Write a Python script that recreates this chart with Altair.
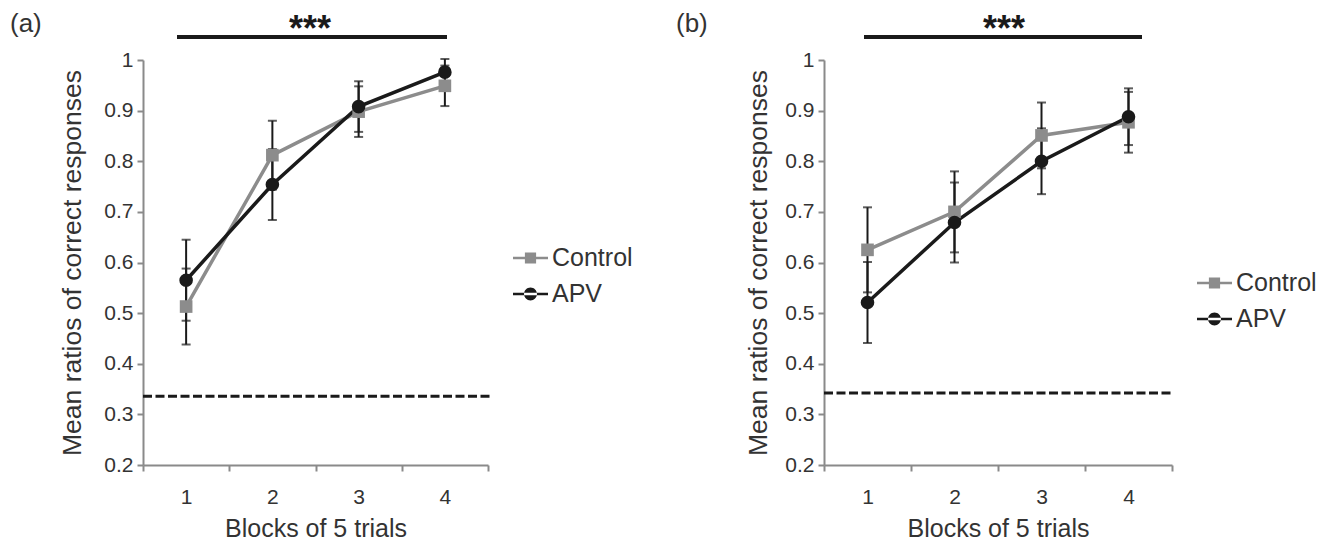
import altair as alt
import pandas as pd

# ---------------- data ----------------
blocks = [1, 2, 3, 4]
series = ["Control", "APV"]

a_control = [0.513, 0.812, 0.898, 0.949]
a_control_err = [0.075, 0.068, 0.050, 0.040]
a_apv = [0.565, 0.754, 0.908, 0.976]
a_apv_err = [0.080, 0.070, 0.050, 0.026]

b_control = [0.625, 0.700, 0.851, 0.877]
b_control_err = [0.084, 0.080, 0.065, 0.060]
b_apv = [0.521, 0.679, 0.800, 0.888]
b_apv_err = [0.080, 0.079, 0.065, 0.056]

chance_levels = [0.336, 0.342]
y_ticks = [0.2, 0.3, 0.4, 0.5, 0.6, 0.7, 0.8, 0.9, 1.0]
panel_labels = ["(a)", "(b)"]
sig_label = "***"
x_title = "Blocks of 5 trials"
y_title = "Mean ratios of correct responses"

FONT = "Liberation Sans"
GREY = "#8c8c8c"
BLACK = "#1a1a1a"
AXIS_GREY = "#8a8a8a"
TEXT = "#333333"

H = 405


def make_df(ctrl, ctrl_err, apv, apv_err):
    rows = []
    for name, vals, errs in [("Control", ctrl, ctrl_err), ("APV", apv, apv_err)]:
        for b, v, e in zip(blocks, vals, errs):
            rows.append({"block": b, "series": name, "value": v,
                         "lo": v - e, "hi": v + e})
    return pd.DataFrame(rows)


def panel(df, chance, label, W, opts):
    base = alt.Chart(df)
    xs = alt.Scale(type="band", paddingInner=0, paddingOuter=0)
    x_enc = alt.X("block:O", scale=xs, title=x_title,
                  axis=alt.Axis(tickBand="extent", labelAngle=0, labelPadding=15,
                                titleY=63, titleBaseline="middle"))
    ys = alt.Scale(domain=[0.2, 1.0], nice=False, zero=False)
    y_axis = alt.Axis(values=y_ticks, format=".1~f", labelPadding=4,
                      titleX=opts["ytitle_x"], titleY=H / 2, titleFontSize=26.5,
                      titleBaseline="middle", titleAngle=270)

    def Y(field):
        return alt.Y(f"{field}:Q", scale=ys, title=y_title, axis=y_axis)

    err = base.mark_rule(color=BLACK, strokeWidth=2).encode(
        x=x_enc, y=Y("lo"), y2="hi:Q")
    cap_lo = base.mark_tick(color=BLACK, thickness=2, size=9, orient="horizontal").encode(
        x=x_enc, y=Y("lo"))
    cap_hi = base.mark_tick(color=BLACK, thickness=2, size=9, orient="horizontal").encode(
        x=x_enc, y=Y("hi"))

    ctrl = base.transform_filter(alt.datum.series == "Control")
    apv = base.transform_filter(alt.datum.series == "APV")

    line_c = ctrl.mark_line(strokeWidth=3.5, color=GREY).encode(
        x=x_enc, y=Y("value"), order=alt.Order("block:Q"))
    line_a = apv.mark_line(strokeWidth=3.5, color=BLACK).encode(
        x=x_enc, y=Y("value"), order=alt.Order("block:Q"))

    pts_c = ctrl.mark_point(shape="square", filled=True, opacity=1, size=160,
                            color=GREY).encode(x=x_enc, y=Y("value"))
    pts_a = apv.mark_point(shape="circle", filled=True, opacity=1, size=185,
                           color=BLACK).encode(x=x_enc, y=Y("value"))

    ctrl_path = "M-1,-0.07H1V0.07H-1Z M-0.32,-0.32H0.32V0.32H-0.32Z"
    apv_path = ("M-1,-0.07H1V0.07H-1Z "
                "M-0.37,0A0.37,0.37 0 1,0 0.37,0A0.37,0.37 0 1,0 -0.37,0Z")
    leg = alt.Legend(orient="none", legendX=opts["leg_x"], legendY=opts["leg_y"],
                     title=None, padding=0, rowPadding=5, labelOffset=4,
                     symbolSize=1225, symbolStrokeWidth=0, symbolOpacity=1,
                     labelFont=FONT, labelFontSize=25, labelColor=TEXT)
    legend_layer = base.mark_point(filled=True, size=0, opacity=1).encode(
        x=x_enc, y=Y("value"),
        color=alt.Color("series:N", scale=alt.Scale(domain=series, range=[GREY, BLACK]),
                        legend=leg),
        shape=alt.Shape("series:N", scale=alt.Scale(domain=series,
                                                    range=[ctrl_path, apv_path]),
                        legend=leg))

    chance_df = pd.DataFrame({"c": [chance]})
    dash = alt.Chart(chance_df).mark_rule(color=BLACK, strokeWidth=3,
                                          strokeDash=[9, 3.5]).encode(
        y=alt.Y("c:Q", scale=ys, title=y_title, axis=y_axis),
        x=alt.value(0), x2=alt.value(W + 2))

    lab_df = pd.DataFrame({"t": [label]})
    lab = alt.Chart(lab_df).mark_text(font=FONT, fontSize=26, color=TEXT,
                                      align="left", baseline="middle").encode(
        text="t:N", x=alt.value(opts["lab_x"]), y=alt.value(-36))

    sig_df = pd.DataFrame({"t": [sig_label]})
    sig_bar = alt.Chart(sig_df).mark_rule(color=BLACK, strokeWidth=4).encode(
        x=alt.value(opts["bar_x"][0]), x2=alt.value(opts["bar_x"][1]),
        y=alt.value(-23))
    sig_txt = alt.Chart(sig_df).mark_text(font=FONT, fontSize=36, fontWeight="bold",
                                          color=BLACK, align="center",
                                          baseline="alphabetic").encode(
        text="t:N", x=alt.value(opts["star_x"]), y=alt.value(-19))

    return alt.layer(err, cap_lo, cap_hi, dash, line_c, line_a, pts_c, pts_a,
                     legend_layer, lab, sig_bar, sig_txt).properties(width=W, height=H)


df_a = make_df(a_control, a_control_err, a_apv, a_apv_err)
df_b = make_df(b_control, b_control_err, b_apv, b_apv_err)

pa = panel(df_a, chance_levels[0], panel_labels[0], 345,
           dict(ytitle_x=-71, leg_x=370, leg_y=180.5, lab_x=-133,
                bar_x=(34, 304), star_x=167))
pb = panel(df_b, chance_levels[1], panel_labels[1], 348,
           dict(ytitle_x=-66, leg_x=373, leg_y=205.5, lab_x=-148,
                bar_x=(40, 318), star_x=180))

chart = alt.hconcat(pa, pb, spacing=336, bounds="flush").resolve_scale(
    color="independent", shape="independent"
).resolve_legend(color="independent", shape="independent").properties(
    padding={"left": 2, "top": 3, "right": 0, "bottom": 0}
).configure_view(stroke=None).configure_axis(
    grid=False, domainColor=AXIS_GREY, domainWidth=2, tickColor=AXIS_GREY,
    tickWidth=2, tickSize=6, labelFont=FONT, labelFontSize=21, labelColor=TEXT,
    titleFont=FONT, titleFontSize=25, titleFontWeight="normal", titleColor=TEXT
)

chart.save("out.html", embed_options={"renderer": "svg", "actions": False})
